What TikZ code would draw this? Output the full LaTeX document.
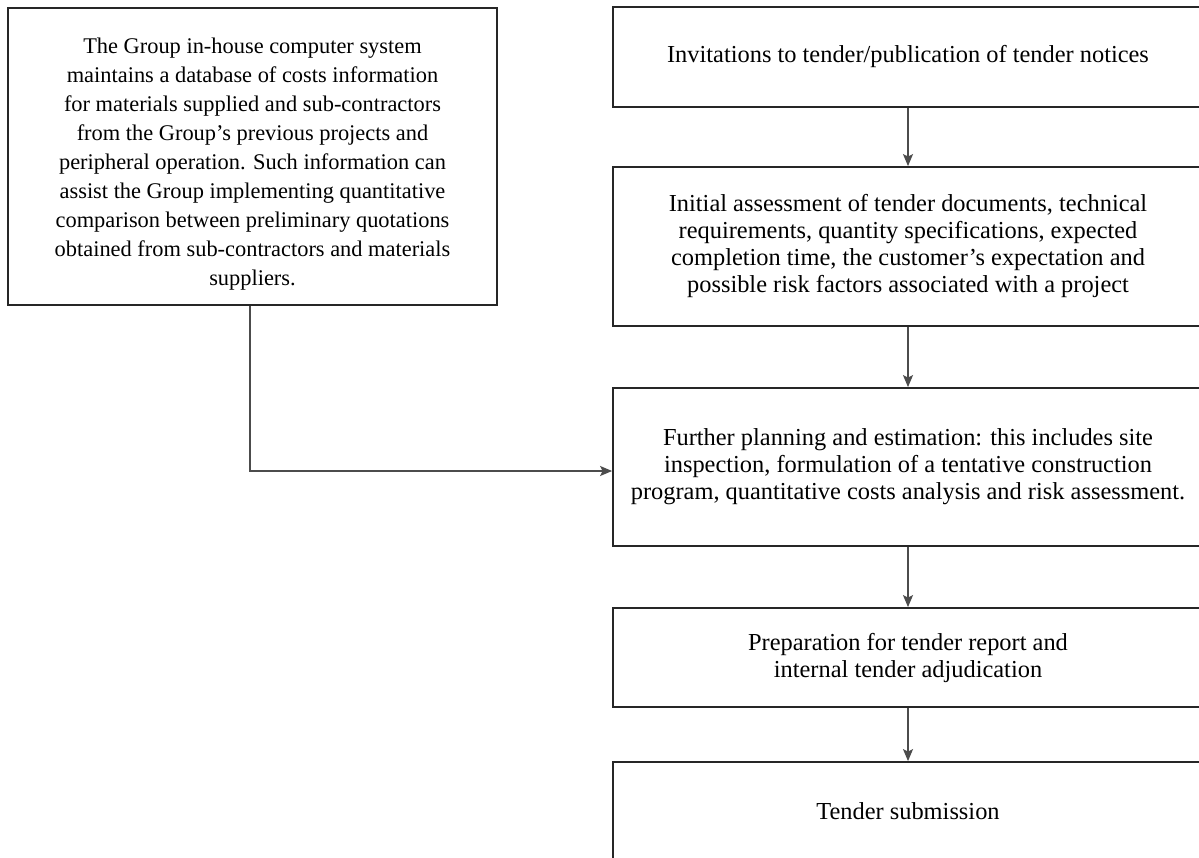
\documentclass[tikz,border=0pt]{standalone}
\usepackage{fontspec}
\setmainfont{Liberation Serif}
\usetikzlibrary{arrows.meta}

\begin{document}
\begin{tikzpicture}[x=0.5pt, y=-0.5pt, >={Stealth[length=6pt, width=5pt, inset=1.2pt]},
	every node/.style={font=\fontsize{12.2}{13.5}\selectfont, align=center, inner sep=0pt},
	box/.style={draw=black!85, line width=0.9pt, minimum width=295pt},
	link/.style={draw=black!70, line width=0.8pt}]
	\useasboundingbox (0,0) rectangle (1199,857);
	\node[box, minimum width=244.5pt, minimum height=148.5pt, font=\fontsize{11.2}{14.5}\selectfont] (info) at (252.5,156.5) {\rule{0pt}{15pt}The Group in-house computer system\\maintains a database of costs information\\for materials supplied and sub-contractors\\from the Group's previous projects and\\peripheral operation. Such information can\\assist the Group implementing quantitative\\comparison between preliminary quotations\\obtained from sub-contractors and materials\\suppliers.};
	\node[box, minimum height=50pt] (invite) at (908,57) {Invitations to tender/publication of tender notices};
	\node[box, minimum height=79.5pt] (assess) at (908,246.5) {Initial assessment of tender documents, technical\\requirements, quantity specifications, expected\\completion time, the customer's expectation and\\possible risk factors associated with a project};
	\node[box, minimum height=79pt] (plan) at (908,467) {Further planning and estimation: this includes site\\inspection, formulation of a tentative construction\\program, quantitative costs analysis and risk assessment.};
	\node[box, minimum height=49.5pt] (report) at (908,657.5) {Preparation for tender report and\\internal tender adjudication};
	\node[box, minimum height=49pt] (submit) at (908,811) {Tender submission};
	% arrows
	\draw[link, ->] (invite) -- (assess);
	\draw[link, ->] (assess) -- (plan);
	\draw[link, ->] (plan) -- (report);
	\draw[link, ->] (report) -- (submit);
	\draw[link, ->] ([xshift=-1.25pt]info.south) |- ([yshift=-2pt]plan.west);
\end{tikzpicture}
\end{document}
